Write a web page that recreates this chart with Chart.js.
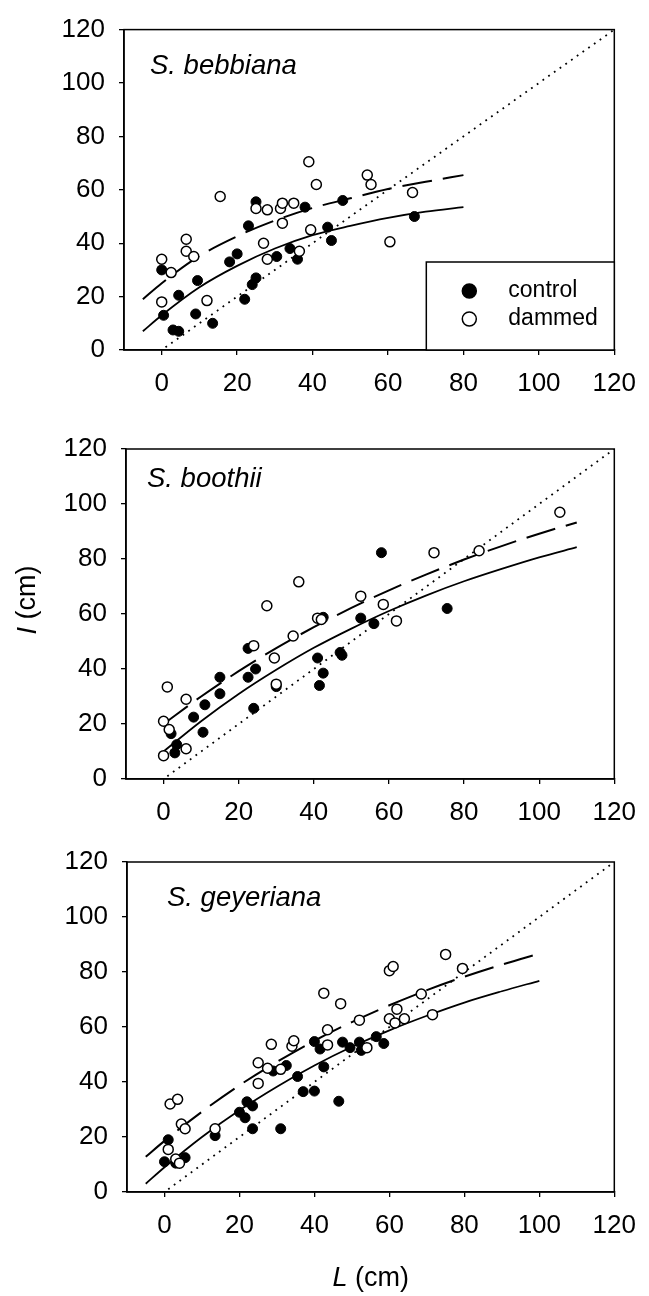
<!DOCTYPE html>
<html>
<head>
<meta charset="utf-8">
<script src="https://cdn.jsdelivr.net/npm/chart.js@4.4.1/dist/chart.umd.min.js"></script>
<style>
  body { margin: 0; background: #fff; }
  canvas { position: absolute; left: 0; }
</style>
</head>
<body>
<canvas id="c1" width="649" height="410" style="top:0px"></canvas>
<canvas id="c2" width="649" height="420" style="top:410px"></canvas>
<canvas id="c3" width="649" height="466" style="top:830px"></canvas>
<script>
const xTicks = [0, 20, 40, 60, 80, 100, 120];
const yTicks = [0, 20, 40, 60, 80, 100, 120];
const oneToOne = [[1, 1], [120, 120]];

// S. bebbiana
const bebControl = [[0, 30], [0.5, 13], [3, 7.5], [4.5, 7], [4.5, 20.5], [9.5, 26], [9, 13.5], [13.5, 10],
  [18, 33], [20, 36], [22, 19], [23, 46.5], [24, 24.5], [25, 27], [25, 55.5], [30.5, 35], [34, 38],
  [36, 34], [38, 53.5], [44, 46], [45, 41], [48, 56], [67, 50]];
const bebDammed = [[0, 34], [0, 18], [2.5, 29], [6.5, 41.5], [6.5, 37], [8.5, 35], [12, 18.5], [15.5, 57.5],
  [25, 53], [28, 52.5], [27, 40], [28, 34], [31.5, 53], [32, 55], [35, 55], [32, 47.5], [36.5, 37],
  [39, 70.5], [39.5, 45], [41, 62], [54.5, 65.5], [55.5, 62], [60.5, 40.5], [66.5, 59]];
const bebFitX = [-5, 0, 10, 20, 30, 40, 50, 60, 70, 80];
const bebControlFit = [7, 13, 23.5, 31.5, 38, 43, 46.5, 49.5, 51.8, 53.5];
const bebDammedFit = [19, 25, 35.2, 42.6, 48.5, 53.2, 56.8, 60.3, 63, 65.5];

// S. boothii
const booControl = [[2, 16.5], [3.5, 12.5], [3, 9.5], [8, 22.5], [11, 27], [10.5, 17], [15, 37], [15, 31],
  [22.5, 37], [22.5, 47.5], [24.5, 40], [24, 25.7], [30, 33.6], [41, 44], [42.5, 38.5], [41.5, 34],
  [42.5, 58.8], [47, 46], [47.5, 45], [52.5, 58.5], [56, 56.5], [58, 82.3], [75.5, 62]];
const booDammed = [[1, 33.5], [6, 29], [0, 21], [1.5, 18], [0, 8.5], [6, 11], [27.5, 63], [24, 48.5],
  [29.5, 44], [30, 34.5], [34.5, 52], [36, 71.7], [41, 58.5], [42, 58], [52.5, 66.5], [58.5, 63.5],
  [62, 57.5], [72, 82.3], [84, 83], [105.5, 97]];
const booFitX = [0, 10, 20, 30, 40, 50, 60, 70, 80, 90, 100, 110];
const booControlFit = [10, 21, 30.9, 39.7, 47.7, 54.7, 61.1, 66.8, 71.9, 76.4, 80.6, 84.3];
const booDammedFit = [20, 30, 39.2, 47.6, 55.2, 62.2, 68.6, 74.4, 79.8, 84.7, 89.2, 93.3];

// S. geyeriana
const geyControl = [[1, 19], [0, 11], [3, 10.5], [5.5, 12.5], [13.5, 20.5], [20, 29], [22, 32.8], [23.5, 31.3],
  [21.5, 27], [23.5, 23], [31, 23], [29, 44], [32.5, 46], [35.5, 42], [37, 36.5], [40, 36.7], [40, 54.7],
  [41.5, 52], [42.5, 45.5], [46.5, 33], [47.5, 54.5], [49.5, 52.5], [52, 54.5], [52.5, 51.5], [56.5, 56.5], [58.5, 54]];
const geyDammed = [[1.5, 32], [3.5, 33.7], [1, 15.5], [3, 12], [4, 10.5], [4.5, 24.7], [5.5, 23], [13.5, 23],
  [25, 47], [25, 39.5], [28.5, 53.7], [27.5, 45], [31, 44.6], [34, 53], [34.5, 55], [43.5, 59], [43.5, 53.5],
  [42.5, 72.3], [47, 68.5], [52, 62.5], [54, 52.5], [60, 63], [61.5, 61.5], [62, 66.5], [64, 63], [60, 80.5],
  [61, 82], [68.5, 72], [71.5, 64.5], [75, 86.4], [79.5, 81.3]];
const geyFitX = [-5, 0, 10, 20, 30, 40, 50, 60, 70, 80, 90, 100];
const geyControlFit = [3, 9, 20, 29.7, 38.3, 46, 52.8, 58.8, 64.1, 68.9, 73, 76.8];
const geyDammedFit = [12.8, 18.6, 29.2, 38.8, 47.3, 55, 61.8, 67.9, 73.4, 78.3, 82.7, 86.7];

const FONT = '"Liberation Sans", Arial, Helvetica, sans-serif';
Chart.defaults.font.family = FONT;
Chart.defaults.color = '#000';

const pts = arr => arr.map(([x, y]) => ({x, y}));
const curve = (xs, ys) => xs.map((x, i) => ({x, y: ys[i]}));

// frame, species name, legend and axis titles
const framePlugin = {
  id: 'frame',
  afterDraw(chart, args, o) {
    const {ctx, chartArea: a} = chart;
    ctx.save();
    ctx.strokeStyle = '#000';
    ctx.lineWidth = 1.5;
    ctx.strokeRect(a.left, a.top, a.right - a.left, a.bottom - a.top);

    ctx.fillStyle = '#000';
    ctx.font = 'italic 27.5px ' + FONT;
    ctx.textBaseline = 'alphabetic';
    ctx.textAlign = 'left';
    ctx.fillText(o.label, a.left + o.labelDx, a.top + o.labelDy);

    if (o.legend) {
      const bx = a.right - 188, by = a.bottom - 88;
      ctx.fillStyle = '#fff';
      ctx.fillRect(bx, by, a.right - bx, a.bottom - by);
      ctx.strokeRect(bx, by, a.right - bx, a.bottom - by);
      const items = [['control', '#000'], ['dammed', '#fff']];
      ctx.font = '23px ' + FONT;
      ctx.textBaseline = 'middle';
      items.forEach(([name, fill], i) => {
        const cy = by + 29 + i * 28;
        ctx.beginPath();
        ctx.arc(bx + 43, cy, 7, 0, Math.PI * 2);
        ctx.fillStyle = fill;
        ctx.fill();
        ctx.lineWidth = 1.5;
        ctx.stroke();
        ctx.fillStyle = '#000';
        ctx.fillText(name, bx + 82, cy);
      });
    }

    if (o.yTitle) {
      ctx.save();
      ctx.translate(28, 190);
      ctx.rotate(-Math.PI / 2);
      ctx.textBaseline = 'middle';
      ctx.font = 'italic 27px ' + FONT;
      const w1 = ctx.measureText('I').width;
      ctx.font = '27px ' + FONT;
      const w2 = ctx.measureText(' (cm)').width;
      let x0 = -(w1 + w2) / 2;
      ctx.font = 'italic 27px ' + FONT;
      ctx.fillText('I', x0, 0);
      ctx.font = '27px ' + FONT;
      ctx.fillText(' (cm)', x0 + w1, 0);
      ctx.restore();
    }

    if (o.xTitle) {
      ctx.textBaseline = 'alphabetic';
      ctx.font = 'italic 27px ' + FONT;
      const w1 = ctx.measureText('L').width;
      ctx.font = '27px ' + FONT;
      const w2 = ctx.measureText(' (cm)').width;
      const x0 = (a.left + a.right) / 2 - (w1 + w2) / 2;
      const yb = a.bottom + 94;
      ctx.font = 'italic 27px ' + FONT;
      ctx.fillText('L', x0, yb);
      ctx.font = '27px ' + FONT;
      ctx.fillText(' (cm)', x0 + w1, yb);
    }
    ctx.restore();
  }
};

function axisGrid() {
  return {drawOnChartArea: false, drawTicks: true, tickLength: 5, color: '#000', lineWidth: 1.3};
}

function makePanel(id, control, dammed, fitX, controlFit, dammedFit, pad, yWidth, xHeight, frameOpts) {
  const ctx = document.getElementById(id).getContext('2d');
  return new Chart(ctx, {
    type: 'scatter',
    data: {
      datasets: [
        {
          label: 'dammed',
          data: pts(dammed),
          pointRadius: 5,
          pointBackgroundColor: '#fff',
          pointBorderColor: '#000',
          pointBorderWidth: 1.5
        },
        {
          label: 'control',
          data: pts(control),
          pointRadius: 5,
          pointBackgroundColor: '#000',
          pointBorderColor: '#000',
          pointBorderWidth: 1
        },
        {
          label: 'dammed fit',
          data: curve(fitX, dammedFit),
          showLine: true,
          pointRadius: 0,
          borderColor: '#000',
          borderWidth: 2,
          borderDash: [30, 11],
          cubicInterpolationMode: 'monotone'
        },
        {
          label: 'control fit',
          data: curve(fitX, controlFit),
          showLine: true,
          pointRadius: 0,
          borderColor: '#000',
          borderWidth: 1.8,
          cubicInterpolationMode: 'monotone'
        },
        {
          label: '1:1',
          data: pts(oneToOne),
          showLine: true,
          pointRadius: 0,
          borderColor: '#000',
          borderWidth: 1.8,
          borderDash: [1.8, 5.2]
        }
      ]
    },
    options: {
      responsive: false,
      animation: false,
      devicePixelRatio: 1,
      layout: {padding: pad},
      plugins: {
        legend: {display: false},
        tooltip: {enabled: false},
        frame: frameOpts
      },
      scales: {
        x: {
          type: 'linear',
          min: -10,
          max: 120,
          afterBuildTicks: s => { s.ticks = xTicks.map(v => ({value: v})); },
          afterFit: s => { s.height = xHeight; },
          grid: axisGrid(),
          border: {color: '#000', width: 1.5},
          ticks: {color: '#000', font: {size: 26}, padding: 13, autoSkip: false, maxRotation: 0}
        },
        y: {
          type: 'linear',
          min: 0,
          max: 120,
          afterBuildTicks: s => { s.ticks = yTicks.map(v => ({value: v})); },
          afterFit: s => { s.width = yWidth; },
          grid: axisGrid(),
          border: {color: '#000', width: 1.5},
          ticks: {color: '#000', font: {size: 26}, padding: 14}
        }
      }
    },
    plugins: [framePlugin]
  });
}

makePanel('c1', bebControl, bebDammed, bebFitX, bebControlFit, bebDammedFit,
  {left: 0, top: 18, right: 27, bottom: 0}, 124, 60,
  {label: 'S. bebbiana', labelDx: 26, labelDy: 44, legend: true});

makePanel('c2', booControl, booDammed, booFitX, booControlFit, booDammedFit,
  {left: 0, top: 39, right: 25, bottom: 0}, 126, 51,
  {label: 'S. boothii', labelDx: 21, labelDy: 38, yTitle: true});

makePanel('c3', geyControl, geyDammed, geyFitX, geyControlFit, geyDammedFit,
  {left: 0, top: 32, right: 24, bottom: 0}, 127, 104,
  {label: 'S. geyeriana', labelDx: 40, labelDy: 44, xTitle: true});
</script>
</body>
</html>
